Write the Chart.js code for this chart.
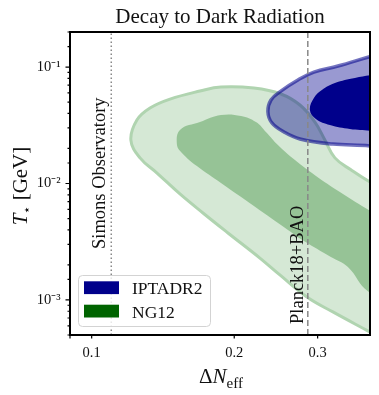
<!DOCTYPE html>
<html><head><meta charset="utf-8">
<script src="https://cdn.jsdelivr.net/npm/chart.js@4.4.1/dist/chart.umd.min.js"></script>
<style>html,body{margin:0;padding:0;background:#fff;}</style>
</head><body>
<canvas id="c" width="379" height="395"></canvas>
<script>
// ---------------- data ----------------
const titleText = 'Decay to Dark Radiation';
const seriesNames = ['IPTADR2', 'NG12'];
const seriesColors = ['#00008b', '#006400'];
const xTickValues = [0.1, 0.2, 0.3];
const xTickLabels = ['0.1', '0.2', '0.3'];
const xMinorTicks = [0.09];
const yTickValues = [1e-3, 1e-2, 1e-1];
const yTickLabels = ['10⁻³', '10⁻²', '10⁻¹'];
const xRange = [0.09, 0.387];
const yRange = [5e-4, 0.2];
const simonsX = 0.11;
const planckX = 0.286;
const lineLabels = ['Simons Observatory', 'Planck18+BAO'];

// contours as [ΔNeff, T* (GeV)] pairs
const ng12Outer = [[0.43,0.00042],[0.43,0.0085],[0.3906,0.0101],[0.3527,0.0131],[0.3263,0.0166],[0.3108,0.0236],[0.2961,0.0337],[0.2753,0.0472],[0.2509,0.0587],[0.2201,0.066],[0.1875,0.0674],[0.1693,0.0622],[0.1464,0.0531],[0.1328,0.0445],[0.1246,0.0351],[0.121,0.0236],[0.1265,0.0166],[0.1374,0.0123],[0.1536,0.00813],[0.1718,0.00558],[0.194,0.00376],[0.2266,0.00229],[0.2497,0.00164],[0.2848,0.00106],[0.3231,0.000789],[0.3868,0.000531],[0.43,0.00042]];
const ng12Inner = [[0.437,0.001],[0.437,0.0044],[0.3906,0.00569],[0.3343,0.00845],[0.2961,0.0118],[0.2687,0.0159],[0.2473,0.0214],[0.2333,0.0277],[0.2223,0.0337],[0.2067,0.038],[0.1875,0.0387],[0.1693,0.0337],[0.1536,0.0288],[0.1514,0.0214],[0.1551,0.0183],[0.1668,0.0141],[0.1875,0.0101],[0.2201,0.00641],[0.2597,0.00399],[0.2807,0.00321],[0.32,0.00234],[0.3476,0.00192],[0.3831,0.00119],[0.437,0.001]];
const iptaOuter = [[0.437,0.0194],[0.3868,0.021],[0.3231,0.0218],[0.2753,0.0241],[0.2547,0.0277],[0.2402,0.0331],[0.2356,0.0411],[0.2391,0.0521],[0.2509,0.0622],[0.2726,0.0774],[0.2946,0.0906],[0.3311,0.102],[0.3906,0.1243],[0.437,0.14],[0.437,0.0194]];
const iptaInner = [[0.437,0.0261],[0.3906,0.0282],[0.351,0.0294],[0.3184,0.0318],[0.2975,0.0358],[0.2889,0.0427],[0.2946,0.0542],[0.3063,0.0635],[0.3263,0.0729],[0.3596,0.0805],[0.3906,0.0854],[0.437,0.0906],[0.437,0.0261]];

// ---------------- chart ----------------
const serif = "'Liberation Serif', 'Times New Roman', serif";
const mk = pts => pts.map(p => ({x: p[0], y: p[1]}));
const near = (a, b) => Math.abs(a - b) <= 1e-6 * Math.abs(b);

const contour = (pts, fillCol, lineCol, lw, order) => ({
  data: mk(pts), backgroundColor: fillCol, borderColor: lineCol, borderWidth: lw,
  fill: 'shape', pointRadius: 0, tension: 0.4, capBezierPoints: false, order: order, clip: 0
});

const decor = {
  id: 'decor',
  afterDatasetsDraw(chart) {
    const {ctx, chartArea: a, scales: {x, y}} = chart;
    ctx.save();
    // rotated labels of reference lines
    ctx.fillStyle = '#111';
    ctx.font = '18.5px ' + serif;
    ctx.textAlign = 'left';
    ctx.textBaseline = 'alphabetic';
    const rot = (t, px, py) => { ctx.save(); ctx.translate(px, py); ctx.rotate(-Math.PI / 2); ctx.fillText(t, 0, 0); ctx.restore(); };
    rot(lineLabels[0], x.getPixelForValue(simonsX) - 6.5, 249);
    rot(lineLabels[1], x.getPixelForValue(planckX) - 4.5, 324);
    // ticks
    ctx.strokeStyle = '#000';
    ctx.lineWidth = 1.2;
    ctx.beginPath();
    y.ticks.forEach(t => {
      const p = y.getPixelForValue(t.value);
      if (p < a.top - 0.5 || p > a.bottom + 0.5) return;
      const major = yTickValues.some(v => near(t.value, v));
      ctx.moveTo(a.left, p); ctx.lineTo(a.left - (major ? 4.5 : 2.5), p);
    });
    xTickValues.concat(xMinorTicks).forEach(v => {
      const p = x.getPixelForValue(v);
      ctx.moveTo(p, a.bottom); ctx.lineTo(p, a.bottom + 3.5);
    });
    ctx.stroke();
    // frame
    ctx.lineWidth = 2;
    ctx.strokeRect(a.left, a.top, a.right - a.left, a.bottom - a.top);
    ctx.restore();
  },
  afterDraw(chart) {
    const {ctx, chartArea: a} = chart;
    ctx.save();
    // legend
    ctx.beginPath();
    ctx.roundRect(78.5, 275.5, 132, 51, 4);
    ctx.fillStyle = 'rgba(255,255,255,0.8)';
    ctx.fill();
    ctx.strokeStyle = '#d3d3d3';
    ctx.lineWidth = 1;
    ctx.stroke();
    ctx.font = '17.5px ' + serif;
    ctx.textBaseline = 'alphabetic';
    ctx.textAlign = 'left';
    seriesNames.forEach((n, i) => {
      const yy = 281.3 + i * 23.4;
      ctx.fillStyle = seriesColors[i];
      ctx.fillRect(84, yy, 35, 12.8);
      ctx.fillStyle = '#111';
      ctx.fillText(n, 132, yy + 12.8);
    });
    // title
    ctx.font = '21px ' + serif;
    ctx.textAlign = 'center';
    ctx.fillStyle = '#111';
    ctx.fillText(titleText, (a.left + a.right) / 2, 23);
    // x axis title: ΔN_eff
    const parts = (arr) => arr.reduce((s, p) => { ctx.font = p[1]; return s + ctx.measureText(p[0]).width; }, 0);
    const xParts = [['Δ', '21px ' + serif, 0], ['N', 'italic 21px ' + serif, 0], ['eff', '15px ' + serif, 4.5]];
    let w = parts(xParts);
    let cx = (a.left + a.right) / 2 + 1 - w / 2;
    ctx.textAlign = 'left';
    xParts.forEach(p => { ctx.font = p[1]; ctx.fillText(p[0], cx, 383 + p[2]); cx += ctx.measureText(p[0]).width; });
    // y axis title: T⋆ [GeV]
    const yParts = [['T', 'italic 21px ' + serif, 0], ['⋆', '13px ' + serif, 4], [' [GeV]', '21px ' + serif, 0]];
    w = parts(yParts);
    ctx.save();
    ctx.translate(27, 186);
    ctx.rotate(-Math.PI / 2);
    cx = -w / 2;
    yParts.forEach(p => { ctx.font = p[1]; ctx.fillText(p[0], cx, p[2]); cx += ctx.measureText(p[0]).width; });
    ctx.restore();
    ctx.restore();
  }
};

new Chart(document.getElementById('c'), {
  type: 'line',
  data: {
    datasets: [
      {label: lineLabels[0], data: mk([[simonsX, yRange[0]], [simonsX, yRange[1]]]), borderColor: '#888888', borderWidth: 1.5, borderDash: [1.5, 2.5], pointRadius: 0, fill: false, order: 0},
      {label: lineLabels[1], data: mk([[planckX, yRange[0]], [planckX, yRange[1]]]), borderColor: '#888888', borderWidth: 1.5, borderDash: [6, 3], pointRadius: 0, fill: false, order: 0},
      contour(iptaInner, '#00008b', 'rgba(0,0,0,0)', 0, 1),
      contour(iptaOuter, 'rgba(0,0,139,0.4)', 'rgba(0,0,139,0.55)', 3.5, 2),
      contour(ng12Inner, 'rgb(150,195,150)', 'rgba(0,0,0,0)', 0, 3),
      contour(ng12Outer, 'rgb(213,232,213)', 'rgb(176,212,176)', 3, 4)
    ]
  },
  options: {
    responsive: false,
    animation: false,
    events: [],
    layout: {padding: {top: 32, right: 9, left: 0, bottom: 0}},
    plugins: {legend: {display: false}, tooltip: {enabled: false}, title: {display: false}},
    scales: {
      x: {
        type: 'logarithmic', min: xRange[0], max: xRange[1],
        afterFit: s => { s.height = 60; },
        border: {display: false},
        grid: {drawOnChartArea: false, drawTicks: true, tickLength: 3.5, tickColor: 'rgba(0,0,0,0)'},
        ticks: {
          autoSkip: false, maxRotation: 0, padding: 6, color: '#111',
          font: {family: serif, size: 14.5},
          callback: v => { const i = xTickValues.findIndex(t => near(v, t)); return i >= 0 ? xTickLabels[i] : ''; }
        }
      },
      y: {
        type: 'logarithmic', min: yRange[0], max: yRange[1],
        afterFit: s => { s.width = 70; },
        border: {display: false},
        grid: {drawOnChartArea: false, drawTicks: true, tickLength: 4.5, tickColor: 'rgba(0,0,0,0)'},
        ticks: {
          autoSkip: false, padding: 5, color: '#111',
          font: {family: serif, size: 14.5},
          callback: v => { const i = yTickValues.findIndex(t => near(v, t)); return i >= 0 ? yTickLabels[i] : ''; }
        }
      }
    }
  },
  plugins: [decor]
});
</script>
</body></html>
